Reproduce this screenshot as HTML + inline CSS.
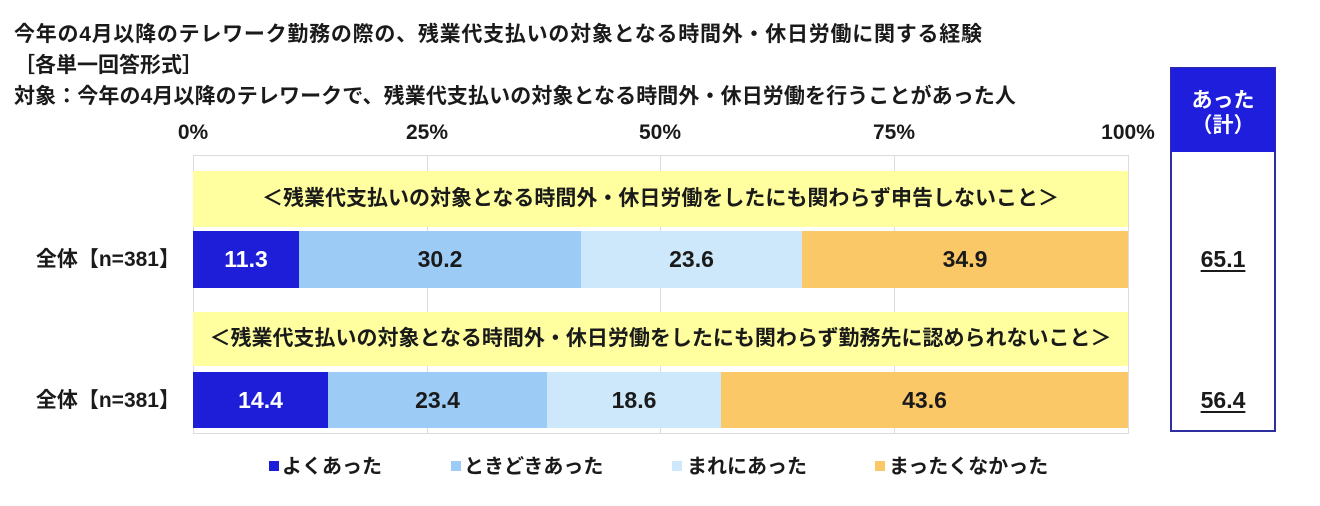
<!DOCTYPE html>
<html>
<head>
<meta charset="utf-8">
<style>
  html,body{margin:0;padding:0;background:#fff;}
  body{width:1320px;height:506px;position:relative;overflow:hidden;
    font-family:"Liberation Sans","Noto Sans CJK JP",sans-serif;font-weight:bold;color:#1a1a1a;}
  .a{position:absolute;white-space:nowrap;}
  .t{font-size:21px;line-height:21px;}
  .ax{font-size:21px;line-height:21px;width:100px;text-align:center;}
  .grid{position:absolute;top:155px;height:278px;width:1px;background:#dcdcdc;}
  .band{position:absolute;left:193px;width:935px;background:#ffff9f;font-size:21px;line-height:21px;text-align:center;}
  .seg{position:absolute;font-size:23px;display:flex;align-items:center;justify-content:center;color:#1a1a1a;}
  .cat{font-size:21px;line-height:21px;width:170px;text-align:right;left:10px;}
  .sq{position:absolute;width:10px;height:10px;top:461px;}
  .lg{font-size:20px;line-height:20px;top:457px;}
  .val{font-size:23px;line-height:23px;width:106px;text-align:center;left:1170px;text-decoration:underline;text-underline-offset:3px;}
</style>
</head>
<body>
  <div class="a t" style="left:14px;top:24px;letter-spacing:0.75px;">今年の4月以降のテレワーク勤務の際の、残業代支払いの対象となる時間外・休日労働に関する経験</div>
  <div class="a t" style="left:14px;top:55px;">［各単一回答形式］</div>
  <div class="a t" style="left:14px;top:86px;letter-spacing:0.1px;">対象：今年の4月以降のテレワークで、残業代支払いの対象となる時間外・休日労働を行うことがあった人</div>

  <div class="a ax" style="left:143px;top:122px;">0%</div>
  <div class="a ax" style="left:377px;top:122px;">25%</div>
  <div class="a ax" style="left:610px;top:122px;">50%</div>
  <div class="a ax" style="left:844px;top:122px;">75%</div>
  <div class="a ax" style="left:1078px;top:122px;">100%</div>

  <!-- plot frame -->
  <div class="a" style="left:193px;top:155px;width:934px;height:277px;border:1px solid #dcdcdc;"></div>
  <div class="grid" style="left:427px;"></div>
  <div class="grid" style="left:660px;"></div>
  <div class="grid" style="left:894px;"></div>

  <!-- band 1 -->
  <div class="band" style="top:171px;height:56px;line-height:56px;">＜残業代支払いの対象となる時間外・休日労働をしたにも関わらず申告しないこと＞</div>
  <div class="seg" style="left:193px;width:106px;top:231px;height:57px;background:#1e1ed9;color:#fff;">11.3</div>
  <div class="seg" style="left:299px;width:282px;top:231px;height:57px;background:#9ccbf6;">30.2</div>
  <div class="seg" style="left:581px;width:221px;top:231px;height:57px;background:#cde8fb;">23.6</div>
  <div class="seg" style="left:802px;width:326px;top:231px;height:57px;background:#fbc867;">34.9</div>
  <div class="a cat" style="top:249px;">全体【n=381】</div>

  <!-- band 2 -->
  <div class="band" style="top:312px;height:54px;line-height:54px;">＜残業代支払いの対象となる時間外・休日労働をしたにも関わらず勤務先に認められないこと＞</div>
  <div class="seg" style="left:193px;width:135px;top:372px;height:56px;background:#1e1ed9;color:#fff;">14.4</div>
  <div class="seg" style="left:328px;width:219px;top:372px;height:56px;background:#9ccbf6;">23.4</div>
  <div class="seg" style="left:547px;width:174px;top:372px;height:56px;background:#cde8fb;">18.6</div>
  <div class="seg" style="left:721px;width:407px;top:372px;height:56px;background:#fbc867;">43.6</div>
  <div class="a cat" style="top:390px;">全体【n=381】</div>

  <!-- right box -->
  <div class="a" style="left:1170px;top:67px;width:102px;height:361px;border:2px solid #2e2e9e;"></div>
  <div class="a" style="left:1171px;top:68px;width:104px;height:84px;background:#1e1edc;"></div>
  <div class="a t" style="left:1170px;top:90px;width:106px;text-align:center;color:#fff;">あった</div>
  <div class="a t" style="left:1170px;top:115px;width:106px;text-align:center;color:#fff;">（計）</div>
  <div class="a val" style="top:248px;">65.1</div>
  <div class="a val" style="top:389px;">56.4</div>

  <!-- legend -->
  <div class="sq" style="left:269px;background:#1e1ed9;"></div>
  <div class="a lg" style="left:282px;">よくあった</div>
  <div class="sq" style="left:451px;background:#9ccbf6;"></div>
  <div class="a lg" style="left:464px;">ときどきあった</div>
  <div class="sq" style="left:672px;background:#cde8fb;"></div>
  <div class="a lg" style="left:687px;">まれにあった</div>
  <div class="sq" style="left:875px;background:#fbc867;"></div>
  <div class="a lg" style="left:889px;">まったくなかった</div>
</body>
</html>
